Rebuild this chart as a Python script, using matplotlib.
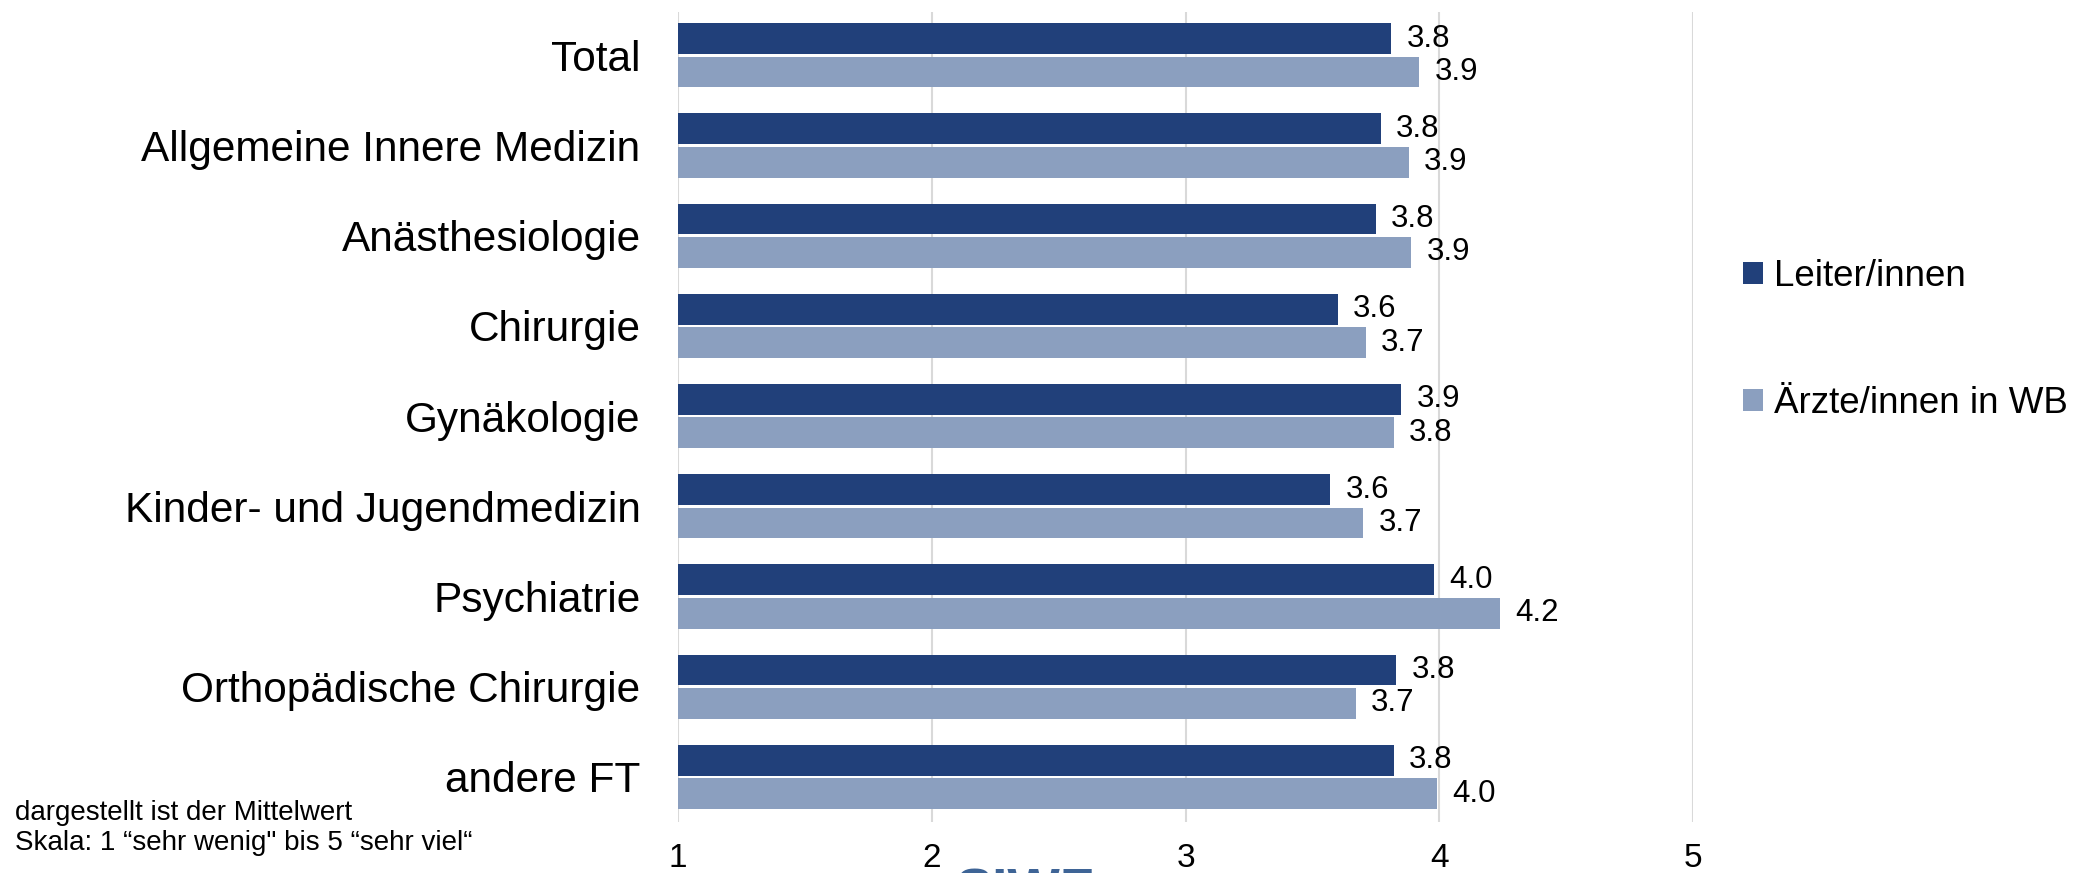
import matplotlib.pyplot as plt
import numpy as np

plt.rcParams['font.family'] = ['Liberation Sans', 'DejaVu Sans']

categories = ["Total", "Allgemeine Innere Medizin", "Anästhesiologie", "Chirurgie",
              "Gynäkologie", "Kinder- und Jugendmedizin", "Psychiatrie",
              "Orthopädische Chirurgie", "andere FT"]
leiter = [3.81, 3.77, 3.75, 3.60, 3.85, 3.57, 3.98, 3.83, 3.82]
aerzte_wb = [3.92, 3.88, 3.89, 3.71, 3.82, 3.70, 4.24, 3.67, 3.99]
xticks = [1, 2, 3, 4, 5]

dark = "#21407a"
light = "#8b9fbf"

fig = plt.figure(figsize=(20.82, 8.73), dpi=100)
ax = fig.add_axes([0.3257, 0.0584, 0.4875, 0.9279])

y = np.arange(len(categories))
h = 0.342
off = 0.185
b1 = ax.barh(y - off, np.array(leiter) - 1, left=1, height=h, color=dark, label="Leiter/innen")
b2 = ax.barh(y + off, np.array(aerzte_wb) - 1, left=1, height=h, color=light, label="Ärzte/innen in WB")

for bars, vals in ((b1, leiter), (b2, aerzte_wb)):
    ax.bar_label(bars, labels=["%.1f" % v for v in vals], padding=11, fontsize=22.5)

ax.set_xlim(1, 5)
ax.set_ylim(len(categories) - 0.5, -0.48)
ax.set_xticks(xticks)
ax.set_xticklabels([str(t) for t in xticks], fontsize=24)
ax.set_yticks(y)
ax.set_yticklabels(categories, fontsize=30.5)
ax.tick_params(axis="y", length=0, pad=27)
ax.tick_params(axis="x", length=0, pad=15)
ax.grid(axis="x", color="#d9d9d9", linewidth=1.5)
ax.set_axisbelow(True)
for s in ax.spines.values():
    s.set_visible(False)

leg = ax.legend(loc="upper left", frameon=False, fontsize=26.5, handlelength=0.55,
                handleheight=0.55, handletextpad=0.3, labelspacing=2.5, borderaxespad=0)
leg.set_bbox_to_anchor((1728 / 2082, 1 - 244 / 873), transform=fig.transFigure)

fig.text(15 / 2082, 1 - 800 / 873, "dargestellt ist der Mittelwert\nSkala: 1 “sehr wenig\" bis 5 “sehr viel“",
         fontsize=20, va="top", ha="left", linespacing=1.2)
fig.text(955 / 2082, 1 - 868 / 873, "SIWF", fontsize=40, fontweight="bold", color="#3e6496",
         va="top", ha="left")

fig.savefig("out.png", dpi=100)
